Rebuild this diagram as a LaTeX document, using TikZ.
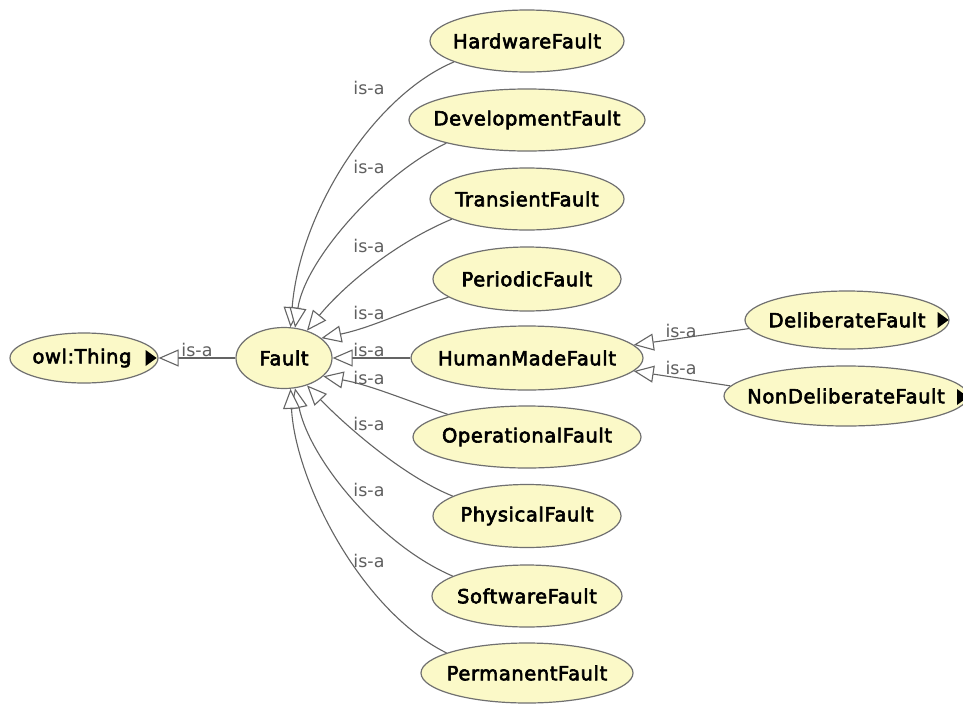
\documentclass[tikz,border=0pt]{standalone}
\usepackage{fontspec}
\setmainfont{DejaVu Sans}
\newfontfamily\classfont[FakeBold=3,LetterSpace=3]{DejaVu Sans}
\usetikzlibrary{shapes.geometric,arrows.meta,calc}
\definecolor{classfill}{RGB}{251,249,200}
\definecolor{classline}{RGB}{112,112,112}
\definecolor{edgeline}{RGB}{100,100,100}
\definecolor{labeltext}{RGB}{95,95,95}
% class names are boxed with zero width so the ellipse keeps its set size
\newcommand{\clname}[1]{\makebox[0pt]{#1}}
\begin{document}
\begin{tikzpicture}[x=1pt,y=-1pt,
  cls/.style={ellipse, draw=classline, line width=1.2pt, fill=classfill,
    inner sep=0pt, font=\classfont\fontsize{19.5}{22}\selectfont},
  isa/.style={draw=edgeline, line width=1.1pt,
    -{Triangle[length=20pt,width=17pt,fill=white,line width=1.1pt]}},
  lbl/.style={text=labeltext, font=\fontsize{17.5}{20}\selectfont, inner sep=0pt},
  expander/.style={fill=black}
]
\useasboundingbox (0,0) rectangle (963,704);
\fill[white] (0,0) rectangle (963,704);

% classes
\node[cls, minimum width=148pt, minimum height=50pt] (thing) at (84,358) {\clname{owl:Thing\hspace{4pt}}};
\node[cls, minimum width=96pt, minimum height=61pt] (fault) at (284,358) {\clname{Fault}};

\node[cls, minimum width=194pt, minimum height=62pt] (hw)   at (527,41)  {\clname{HardwareFault}};
\node[cls, minimum width=236pt, minimum height=62pt] (dev)  at (527,120) {\clname{DevelopmentFault}};
\node[cls, minimum width=194pt, minimum height=62pt] (tr)   at (527,199) {\clname{TransientFault}};
\node[cls, minimum width=188pt, minimum height=64pt] (per)  at (527,279) {\clname{PeriodicFault}};
\node[cls, minimum width=232pt, minimum height=64pt] (hm)   at (527,358) {\clname{HumanMadeFault}};
\node[cls, minimum width=228pt, minimum height=62pt] (op)   at (527,437) {\clname{OperationalFault}};
\node[cls, minimum width=188pt, minimum height=63pt] (phy)  at (527,516) {\clname{PhysicalFault}};
\node[cls, minimum width=190pt, minimum height=62pt] (sw)   at (527,596) {\clname{SoftwareFault}};
\node[cls, minimum width=212pt, minimum height=60pt] (perm) at (527,673) {\clname{PermanentFault}};

\node[cls, minimum width=204pt, minimum height=58pt] (del) at (847,320) {\clname{DeliberateFault}};
\node[cls, minimum width=244pt, minimum height=60pt] (nd)  at (846,396) {\clname{NonDeliberateFault}};

% expand markers
\fill[expander] ($(thing.east)+(-13,-8)$) -- ++(11,8) -- ++(-11,8) -- cycle;
\fill[expander] ($(del.east)+(-12,-8)$) -- ++(11,8) -- ++(-11,8) -- cycle;
\fill[expander] (957,389) -- ++(11,8) -- ++(-11,8) -- cycle;

% is-a connectors
\draw[isa] (fault.west) -- (thing.east);

\draw[isa] (hw.196)  .. controls (375,95)  and (300,210) .. (fault.78);
\draw[isa] (dev.196) .. controls (380,175) and (305,260) .. (fault.70);
\draw[isa] (tr.195)  .. controls (390,245) and (340,290) .. (fault.50);
\draw[isa] (per.193) .. controls (400,313) and (370,328) .. (fault.28);
\draw[isa] (hm.west) -- (fault.east);
\draw[isa] (op.164)  .. controls (400,398) and (370,385) .. (fault.-25);
\draw[isa] (phy.165) .. controls (400,475) and (340,420) .. (fault.-50);
\draw[isa] (sw.165)  .. controls (380,545) and (310,460) .. (fault.-70);
\draw[isa] (perm.166) .. controls (360,610) and (295,480) .. (fault.-78);

\draw[isa] (del.185) -- (hm.7);
\draw[isa] (nd.175) -- (hm.-7);

% labels
\node[lbl] (l1) at (369,88)  {is-a};
\node[lbl] (l2) at (369,167) {is-a};
\node[lbl] (l3) at (369,246) {is-a};
\node[lbl] (l4) at (369,313) {is-a};
\node[lbl] (l5) at (369,350) {is-a};
\node[lbl] (l6) at (369,378) {is-a};
\node[lbl] (l7) at (369,424) {is-a};
\node[lbl] (l8) at (369,490) {is-a};
\node[lbl] (l9) at (369,561) {is-a};
\node[lbl] (l0) at (197,350) {is-a};
\node[lbl] (ld) at (681,331) {is-a};
\node[lbl] (ln) at (681,368) {is-a};
\end{tikzpicture}
\end{document}
